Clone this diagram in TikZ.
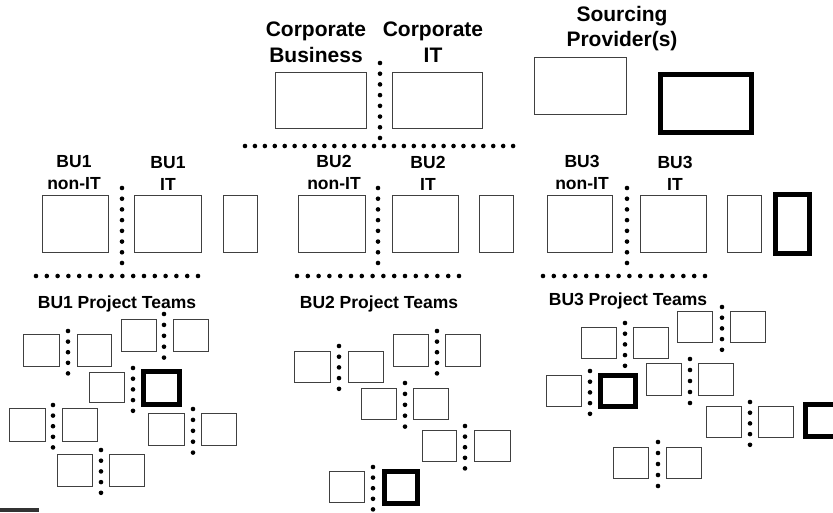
\documentclass[tikz,border=0pt]{standalone}
\usepackage{fontspec}
\setmainfont{Liberation Sans}
\tikzset{
  box/.style={draw=black!75, line width=1.1pt, inner sep=0pt},
  thickbox/.style={draw=black, line width=5pt, inner sep=0pt},
  lab/.style={font=\bfseries\fontsize{17.5}{22}\selectfont, align=center, inner sep=0pt, anchor=north},
  toplab/.style={font=\bfseries\fontsize{21}{25.5}\selectfont, align=center, inner sep=0pt, anchor=north},
  dotfill/.style={fill=black}
}
% thin box from outer edges
\newcommand\bx[5]{\node[box, minimum width={(#4-#2-1.1)*1pt}, minimum height={(#5-#3-1.1)*1pt}] (#1) at ({(#2+#4)/2},{(#3+#5)/2}) {};}
% thick box from outer edges
\newcommand\tbx[5]{\node[thickbox, minimum width={(#4-#2-5)*1pt}, minimum height={(#5-#3-5)*1pt}] (#1) at ({(#2+#4)/2},{(#3+#5)/2}) {};}
% column of dots: x, y0, spacing, count-1
\newcommand\dcol[4]{\foreach \k in {0,...,#4}{\fill[dotfill] (#1,{#2+\k*#3}) circle (2.3pt);}}
% row of dots: y, x0, spacing, count-1
\newcommand\drow[4]{\foreach \k in {0,...,#4}{\fill[dotfill] ({#2+\k*#3},#1) circle (2.3pt);}}
\begin{document}
\begin{tikzpicture}[x=1pt,y=-1pt]
\useasboundingbox (0,0) rectangle (833,512);
\clip (0,0) rectangle (833,512);
\fill[white] (0,0) rectangle (833,512);

% ---- top level ----
\node[toplab] (lcb) at (316,22) {Corporate\\Business};
\node[toplab] (lcit) at (433,22) {Corporate\\IT};
\node[toplab] (lsp) at (622,6) {Sourcing\\Provider(s)};
\bx{cb}{275}{72}{367}{129}
\bx{cit}{392}{72}{483}{129}
\bx{sp}{534}{57}{627}{115}
\tbx{spt}{658}{72}{754}{135}
\dcol{380}{63}{10.71}{7}
\drow{146}{245}{9.93}{27}

% ---- BU level ----
\node[lab] (lb1n) at (74,155) {BU1\\non-IT};
\node[lab] (lb1i) at (168,156) {BU1\\IT};
\node[lab] (lb2n) at (334,155) {BU2\\non-IT};
\node[lab] (lb2i) at (428,156) {BU2\\IT};
\node[lab] (lb3n) at (582,155) {BU3\\non-IT};
\node[lab] (lb3i) at (675,156) {BU3\\IT};
\bx{b1n}{42}{195}{109}{253}
\bx{b1i}{134}{195}{202}{253}
\bx{b1s}{223}{195}{258}{253}
\bx{b2n}{298}{195}{366}{253}
\bx{b2i}{392}{195}{459}{253}
\bx{b2s}{479}{195}{514}{253}
\bx{b3n}{547}{195}{613}{253}
\bx{b3i}{640}{195}{707}{253}
\bx{b3s}{727}{195}{762}{253}
\tbx{b3t}{773}{192}{812}{256}
\dcol{122}{188}{10.71}{7}
\dcol{378}{188}{10.71}{7}
\dcol{627}{188}{10.71}{7}
\drow{276}{36}{10.8}{15}
\drow{276}{297}{10.8}{15}
\drow{276}{543}{10.8}{15}

% ---- project team labels ----
\node[lab] (lp1) at (117,296) {BU1 Project Teams};
\node[lab] (lp2) at (379,296) {BU2 Project Teams};
\node[lab] (lp3) at (628,293) {BU3 Project Teams};

% ---- BU1 project teams ----
\bx{a1}{23}{334}{60}{367}   \bx{a2}{77}{334}{112}{367}   \dcol{68}{331}{10.6}{4}
\bx{pb1}{121}{319}{157}{352} \bx{pb2}{173}{319}{209}{352} \dcol{164}{314}{10.9}{4}
\bx{c1}{89}{372}{125}{403}  \tbx{c2}{141}{369}{182}{407} \dcol{133}{368}{10.7}{4}
\bx{d1}{9}{408}{46}{442}    \bx{d2}{62}{408}{98}{442}    \dcol{53}{405}{10.6}{4}
\bx{e1}{148}{413}{185}{446} \bx{e2}{201}{413}{237}{446}  \dcol{193}{409}{10.9}{4}
\bx{f1}{57}{454}{93}{487}   \bx{f2}{109}{454}{145}{487}  \dcol{101}{450}{10.7}{4}

% ---- BU2 project teams ----
\bx{g1}{294}{351}{331}{383} \bx{g2}{348}{351}{384}{383}  \dcol{339}{346}{10.7}{4}
\bx{h1}{393}{334}{429}{367} \bx{h2}{445}{334}{481}{367}  \dcol{437}{331}{10.6}{4}
\bx{i1}{361}{388}{397}{420} \bx{i2}{413}{388}{449}{420}  \dcol{405}{383}{10.9}{4}
\bx{j1}{422}{430}{457}{462} \bx{j2}{474}{430}{511}{462}  \dcol{465}{426}{10.6}{4}
\bx{k1}{329}{471}{365}{503} \tbx{k2}{382}{469}{420}{506} \dcol{373}{467}{10.6}{4}

% ---- BU3 project teams ----
\bx{l1}{581}{327}{617}{359} \bx{l2}{633}{327}{669}{359}  \dcol{625}{323}{10.7}{4}
\bx{m1}{677}{311}{713}{343} \bx{m2}{730}{311}{766}{343}  \dcol{722}{307}{10.7}{4}
\bx{n1}{546}{375}{582}{407} \tbx{n2}{598}{373}{638}{409} \dcol{590}{371}{10.7}{4}
\bx{o1}{646}{363}{682}{396} \bx{o2}{698}{363}{734}{396}  \dcol{690}{359}{11}{4}
\bx{p1}{706}{406}{742}{438} \bx{p2}{758}{406}{794}{438}  \dcol{750}{402}{10.7}{4}
\tbx{p3}{803}{402}{843}{439}
\bx{q1}{613}{447}{649}{479} \bx{q2}{666}{447}{702}{479}  \dcol{658}{442}{11}{4}

% ---- bottom-left mark ----
\fill[black!80] (0,508) rectangle (39,512);
\end{tikzpicture}
\end{document}
